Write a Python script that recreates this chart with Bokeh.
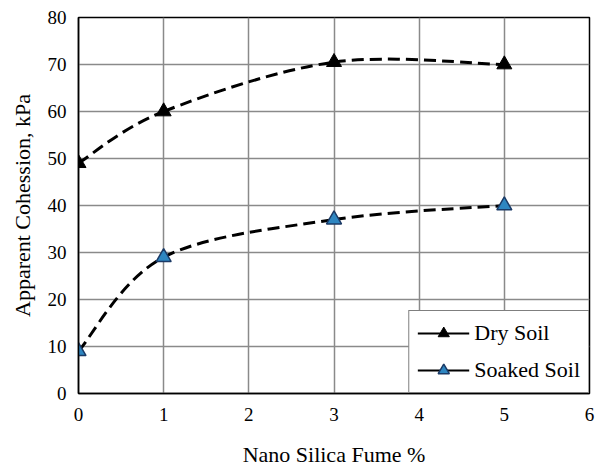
from bokeh.plotting import figure
from bokeh.models import ColumnDataSource, Legend, LegendItem, FixedTicker, Range1d, InlineStyleSheet
from bokeh.embed import file_html
from bokeh.resources import INLINE

# ---- data ----
fume = [0, 1, 3, 5]
dry_soil = [49, 60, 70.5, 70]
soaked_soil = [9, 29, 37, 40]
x_ticks = [0, 1, 2, 3, 4, 5, 6]
y_ticks = [0, 10, 20, 30, 40, 50, 60, 70, 80]

FONT = "Liberation Serif"


def smooth_source(xs, ys):
    """Spreadsheet-style smoothed line: cubic Bezier segments between data points."""
    n = len(xs)
    d = dict(x0=[], y0=[], x1=[], y1=[], cx0=[], cy0=[], cx1=[], cy1=[])
    for i in range(n - 1):
        a = max(i - 1, 0)
        b = min(i + 2, n - 1)
        d["x0"].append(xs[i]); d["y0"].append(ys[i])
        d["x1"].append(xs[i + 1]); d["y1"].append(ys[i + 1])
        d["cx0"].append(xs[i] + (xs[i + 1] - xs[a]) / 6)
        d["cy0"].append(ys[i] + (ys[i + 1] - ys[a]) / 6)
        d["cx1"].append(xs[i + 1] - (xs[b] - xs[i]) / 6)
        d["cy1"].append(ys[i + 1] - (ys[b] - ys[i]) / 6)
    return ColumnDataSource(d)


p = figure(width=602, height=469, output_backend="svg", toolbar_location=None,
           x_range=Range1d(0, 6), y_range=Range1d(0, 80),
           min_border_left=78, min_border_right=13, min_border_top=17, min_border_bottom=75)
p.stylesheets = [InlineStyleSheet(css="text { font-family: 'Liberation Serif', serif !important; }")]

p.background_fill_color = "white"
p.border_fill_color = "white"
p.outline_line_color = "black"
p.outline_line_width = 1.5

p.xaxis.ticker = FixedTicker(ticks=x_ticks)
p.yaxis.ticker = FixedTicker(ticks=y_ticks)
p.axis.axis_line_color = "black"
p.axis.axis_line_width = 1.5
p.axis.major_tick_in = 0
p.axis.major_tick_out = 0
p.axis.minor_tick_in = 0
p.axis.minor_tick_out = 0
p.axis.major_label_text_font = FONT
p.axis.major_label_text_font_size = "19px"
p.axis.major_label_text_color = "black"
p.axis.axis_label_text_font = FONT
p.axis.axis_label_text_font_size = "22px"
p.axis.axis_label_text_font_style = "normal"
p.axis.axis_label_text_color = "black"

p.xaxis.axis_label = "Nano Silica Fume %"
p.yaxis.axis_label = "Apparent Cohession, kPa"
p.xaxis.major_label_standoff = 14
p.yaxis.major_label_standoff = 12
p.xaxis.axis_label_standoff = 18
p.yaxis.axis_label_standoff = 10

p.xgrid.ticker = FixedTicker(ticks=x_ticks)
p.ygrid.ticker = FixedTicker(ticks=y_ticks)
p.grid.grid_line_color = "#8a8a8a"
p.grid.grid_line_width = 1.5

# smoothed dashed curves
p.bezier(x0="x0", y0="y0", x1="x1", y1="y1", cx0="cx0", cy0="cy0", cx1="cx1", cy1="cy1",
         source=smooth_source(fume, dry_soil), line_color="black", line_width=3, line_dash="12 6")
p.bezier(x0="x0", y0="y0", x1="x1", y1="y1", cx0="cx0", cy0="cy0", cx1="cx1", cy1="cy1",
         source=smooth_source(fume, soaked_soil), line_color="black", line_width=3, line_dash="12 6")

dry_pts = p.scatter(fume, dry_soil, marker="triangle", size=15, fill_color="black", line_color="black")
soak_pts = p.scatter(fume, soaked_soil, marker="triangle", size=15, fill_color="#2e86c1",
                     line_color="#1b3a66", line_width=1.5)

# legend glyph lines (solid), placed outside the visible range
dry_leg_line = p.line([-10, -9], [-10, -9], line_color="black", line_width=2)
soak_leg_line = p.line([-10, -9], [-10, -9], line_color="black", line_width=2)

legend = Legend(items=[
    LegendItem(label="Dry Soil", renderers=[dry_leg_line, dry_pts]),
    LegendItem(label="Soaked Soil", renderers=[soak_leg_line, soak_pts]),
], location="bottom_right")
legend.margin = 0
legend.padding = 8
legend.spacing = 9
legend.glyph_width = 52
legend.glyph_height = 28
legend.label_height = 28
legend.label_standoff = 5
legend.label_text_font = FONT
legend.label_text_font_size = "22px"
legend.label_text_color = "black"
legend.border_line_color = "black"
legend.border_line_width = 1.5
legend.background_fill_color = "white"
legend.background_fill_alpha = 1.0
p.add_layout(legend, "center")

open("out.html", "w").write(file_html(p, INLINE))
